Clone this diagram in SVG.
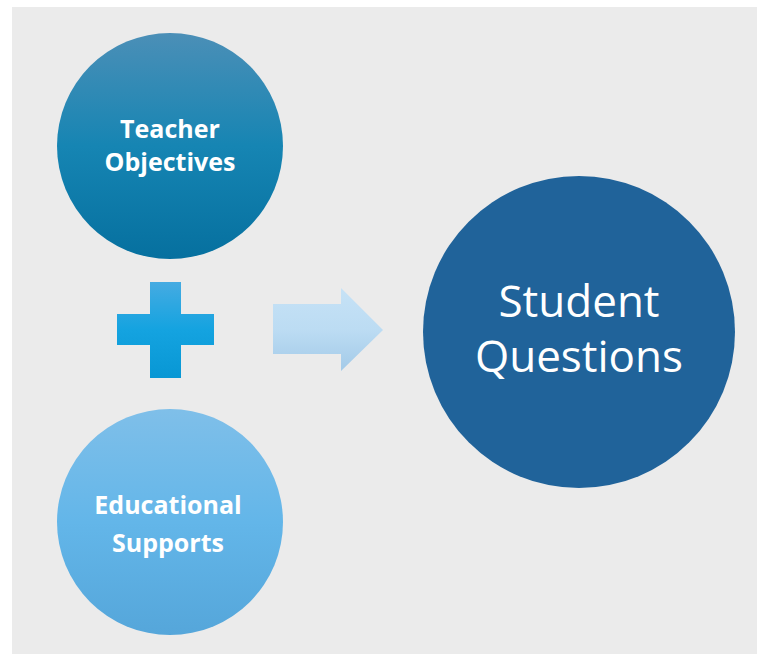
<svg xmlns="http://www.w3.org/2000/svg" width="759" height="654" viewBox="0 0 759 654">
<defs>
<linearGradient id="gTeach" x1="0" y1="0" x2="0" y2="1">
<stop offset="0" stop-color="#4b8fb7"/>
<stop offset="0.5" stop-color="#1685b3"/>
<stop offset="1" stop-color="#06709f"/>
</linearGradient>
<linearGradient id="gEdu" x1="0" y1="0" x2="0" y2="1">
<stop offset="0" stop-color="#7fbfe9"/>
<stop offset="0.5" stop-color="#63b6e9"/>
<stop offset="1" stop-color="#55a6da"/>
</linearGradient>
<linearGradient id="gPlus" x1="0" y1="0" x2="0" y2="1">
<stop offset="0" stop-color="#45abe2"/>
<stop offset="0.5" stop-color="#14a3e0"/>
<stop offset="1" stop-color="#0897d4"/>
</linearGradient>
<linearGradient id="gArrow" x1="0" y1="0" x2="0" y2="1">
<stop offset="0" stop-color="#c6e2f6"/>
<stop offset="0.5" stop-color="#bcdcf3"/>
<stop offset="1" stop-color="#a3cae8"/>
</linearGradient>
</defs>
<style>
.bold { font-family: "Open Sans", "Liberation Sans", sans-serif; font-weight: bold; fill: #ffffff; text-anchor: middle; }
.reg { font-family: "Open Sans", "Liberation Sans", sans-serif; fill: #ffffff; text-anchor: middle; }
</style>
<rect x="0" y="0" width="759" height="654" fill="#ffffff"/>
<rect x="12" y="7" width="745" height="647" fill="#ebebeb"/>
<g id="teacher-objectives">
<circle cx="170" cy="146" r="113" fill="url(#gTeach)"/>
<text class="bold" x="170" y="138" font-size="25">Teacher</text>
<text class="bold" x="170" y="171" font-size="25">Objectives</text>
</g>
<g id="educational-supports">
<circle cx="170" cy="522" r="113" fill="url(#gEdu)"/>
<text class="bold" x="168" y="514" font-size="25">Educational</text>
<text class="bold" x="168" y="552" font-size="25">Supports</text>
</g>
<g id="student-questions">
<circle cx="579" cy="332" r="156" fill="#20639a"/>
<text class="reg" x="579" y="317" font-size="44">Student</text>
<text class="reg" x="579" y="372" font-size="44">Questions</text>
</g>
<g id="plus">
<path d="M150,282 H181 V314 H214 V345 H181 V378 H150 V345 H117 V314 H150 Z" fill="url(#gPlus)"/>
</g>
<g id="connectors">
<path d="M273,304 H341 V288 L383,330 L341,371 V354 H273 Z" fill="url(#gArrow)"/>
</g>
</svg>
